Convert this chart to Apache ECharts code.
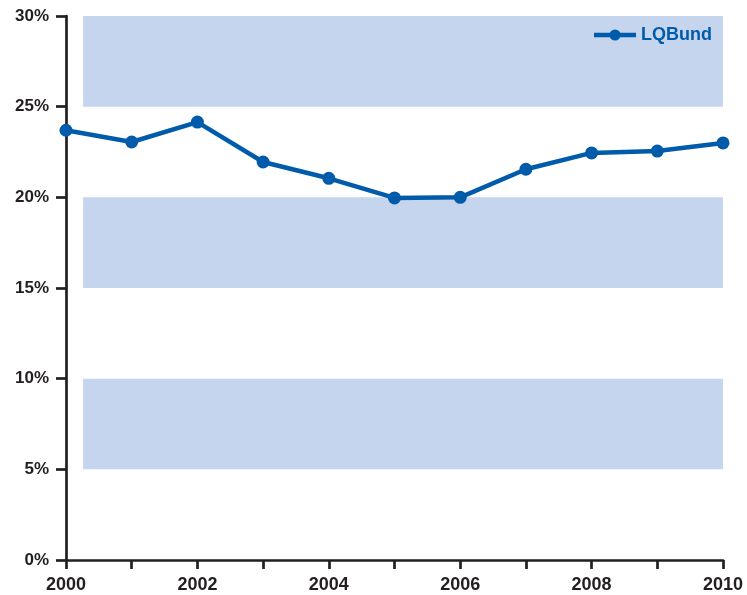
<!DOCTYPE html>
<html>
<head>
<meta charset="utf-8">
<script src="https://cdn.jsdelivr.net/npm/echarts@6/dist/echarts.min.js"></script>
<style>
  html, body { margin: 0; padding: 0; background: #fff; }
  #main { width: 747px; height: 595px; }
</style>
</head>
<body>
<div id="main"></div>
<script>
// data
var years = [2000, 2001, 2002, 2003, 2004, 2005, 2006, 2007, 2008, 2009, 2010];
var lqbund = [23.7, 23.05, 24.15, 21.95, 21.05, 19.97, 20.0, 21.55, 22.45, 22.55, 23.0];
var bands = [[5, 10], [15, 20], [25, 30]];
var yTicks = [0, 5, 10, 15, 20, 25, 30];

var axisColor = '#231f20';
var lineColor = '#005bab';
var bandColor = '#c6d5ee';
var font = 'Liberation Sans, Arial, sans-serif';

var chart = echarts.init(document.getElementById('main'));

var seriesData = [];
for (var i = 0; i < years.length; i++) {
    seriesData.push([years[i], lqbund[i]]);
}

var bandAreas = [];
for (var b of bands) {
    bandAreas.push([
        { xAxis: years[0] + 0.26, yAxis: b[0] },
        { xAxis: years[years.length - 1], yAxis: b[1] }
    ]);
}

var option = {
    animation: false,
    grid: { left: 66, right: 24, top: 16, bottom: 35, containLabel: false },
    legend: {
        right: 30,
        top: 21,
        itemWidth: 42,
        itemHeight: 14,
        itemGap: 7,
        data: ['LQBund'],
        lineStyle: { width: 4.5 },
        textStyle: {
            color: lineColor,
            fontFamily: font,
            fontWeight: 'bold',
            fontSize: 18
        }
    },
    xAxis: {
        type: 'value',
        min: 2000,
        max: 2010,
        interval: 1,
        axisLine: { lineStyle: { color: axisColor, width: 2.7 } },
        axisTick: { length: 9, lineStyle: { color: axisColor, width: 2.7 } },
        splitLine: { show: false },
        axisLabel: {
            color: axisColor,
            fontFamily: font,
            fontWeight: 'bold',
            fontSize: 18,
            margin: 16,
            formatter: function (v) { return v % 2 === 0 ? String(v) : ''; }
        }
    },
    yAxis: {
        type: 'value',
        min: yTicks[0],
        max: yTicks[yTicks.length - 1],
        interval: 5,
        axisLine: { show: true, lineStyle: { color: axisColor, width: 2.7 } },
        axisTick: { show: true, length: 10, lineStyle: { color: axisColor, width: 2.7 } },
        splitLine: { show: false },
        axisLabel: {
            color: axisColor,
            fontFamily: font,
            fontWeight: 'bold',
            fontSize: 17,
            margin: 17,
            formatter: '{value}%'
        }
    },
    series: [
        {
            name: 'LQBund',
            type: 'line',
            data: seriesData,
            symbol: 'circle',
            symbolSize: 13,
            z: 5,
            lineStyle: { color: lineColor, width: 4.5 },
            itemStyle: { color: lineColor },
            markArea: {
                silent: true,
                itemStyle: { color: bandColor },
                data: bandAreas
            }
        }
    ]
};

chart.setOption(option);
</script>
</body>
</html>
